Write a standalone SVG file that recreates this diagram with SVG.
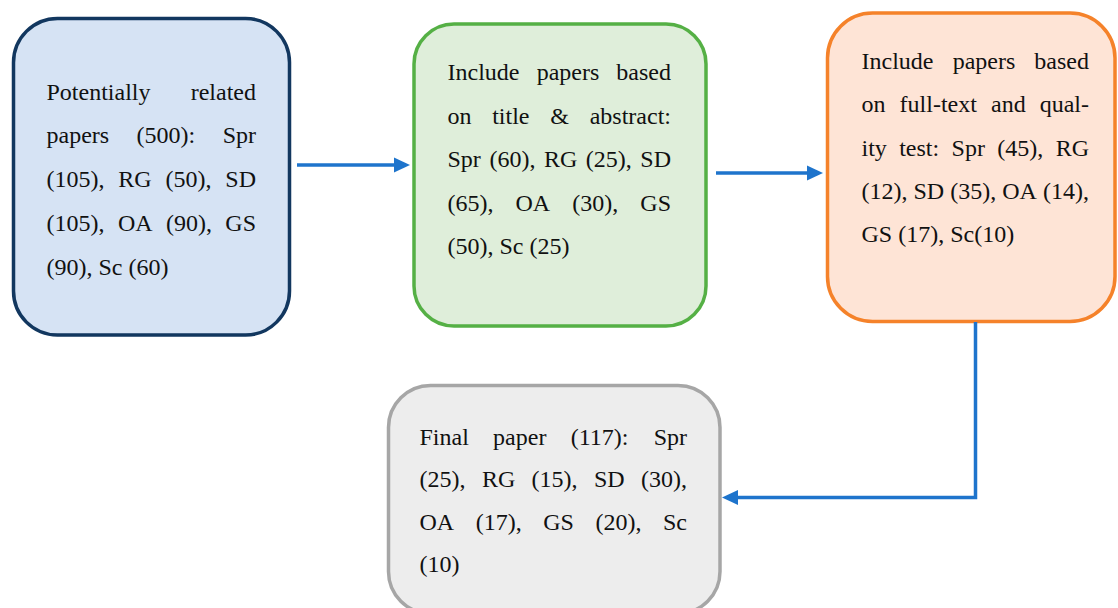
<svg xmlns="http://www.w3.org/2000/svg" width="1118" height="608" viewBox="0 0 1118 608">
<style>
.t{font-family:"Liberation Serif","Times New Roman",serif;font-size:24px;fill:#111111}
.e{text-anchor:end}
.box{stroke-width:3.5}
.conn{fill:none;stroke:#1E74CC;stroke-width:3.5}
</style>
<defs>
<marker id="ah" viewBox="0 0 16 16" markerWidth="16" markerHeight="16" refX="6" refY="8" markerUnits="userSpaceOnUse" orient="auto">
<path d="M0,0.5 L16,8 L0,15.5 Z" fill="#1E74CC"/>
</marker>
</defs>
<rect width="1118" height="608" fill="#ffffff"/>
<g id="node1">
<rect class="box" x="13.5" y="18.5" width="276" height="316.5" rx="44" fill="#D6E3F4" stroke="#12375F"/>
<text class="t" y="99.5"><tspan x="46.5">Potentially</tspan><tspan class="e" x="256">related</tspan></text>
<text class="t" y="143"><tspan x="46.5">papers</tspan><tspan x="136.6">(500):</tspan><tspan class="e" x="256">Spr</tspan></text>
<text class="t" y="187"><tspan x="46.5">(105),</tspan><tspan x="118.3">RG</tspan><tspan x="165.4">(50),</tspan><tspan class="e" x="256">SD</tspan></text>
<text class="t" y="231"><tspan x="46.5">(105),</tspan><tspan x="117.9">OA</tspan><tspan x="166">(90),</tspan><tspan class="e" x="256">GS</tspan></text>
<text class="t" x="46.5" y="275">(90), Sc (60)</text>
</g>
<g id="node2">
<rect class="box" x="414" y="24" width="292" height="302" rx="40" fill="#DFEEDA" stroke="#55B045"/>
<text class="t" y="80"><tspan x="447.5">Include</tspan><tspan x="536.7">papers</tspan><tspan class="e" x="671">based</tspan></text>
<text class="t" y="123.5"><tspan x="447.5">on</tspan><tspan x="492.2">title</tspan><tspan x="550.2">&amp;</tspan><tspan class="e" x="671">abstract:</tspan></text>
<text class="t" y="167"><tspan x="447.5">Spr</tspan><tspan x="489.4">(60),</tspan><tspan x="543.9">RG</tspan><tspan x="585.8">(25),</tspan><tspan class="e" x="671">SD</tspan></text>
<text class="t" y="210.5"><tspan x="447.5">(65),</tspan><tspan x="515.5">OA</tspan><tspan x="572.2">(30),</tspan><tspan class="e" x="671">GS</tspan></text>
<text class="t" x="447.5" y="254">(50), Sc (25)</text>
</g>
<g id="node3">
<rect class="box" x="827.5" y="13" width="287.5" height="308.5" rx="45" fill="#FEE4D6" stroke="#F5822A"/>
<text class="t" y="68.5"><tspan x="861.5">Include</tspan><tspan x="952.7">papers</tspan><tspan class="e" x="1089">based</tspan></text>
<text class="t" y="112"><tspan x="861.5">on</tspan><tspan x="899.6">full-text</tspan><tspan x="991">and</tspan><tspan class="e" x="1089">qual-</tspan></text>
<text class="t" y="155.5"><tspan x="861.5">ity</tspan><tspan x="899.2">test:</tspan><tspan x="951.6">Spr</tspan><tspan x="997.3">(45),</tspan><tspan class="e" x="1089">RG</tspan></text>
<text class="t" y="198.5"><tspan x="861.5">(12),</tspan><tspan x="913.5">SD</tspan><tspan x="950.2">(35),</tspan><tspan x="1002.2">OA</tspan><tspan class="e" x="1089">(14),</tspan></text>
<text class="t" x="861.5" y="242">GS (17), Sc(10)</text>
</g>
<g id="node4">
<rect class="box" x="388.5" y="385.5" width="331.5" height="228" rx="42" fill="#EDEDED" stroke="#A6A6A6"/>
<text class="t" y="445"><tspan x="419.5">Final</tspan><tspan x="493.1">paper</tspan><tspan x="570.7">(117):</tspan><tspan class="e" x="687">Spr</tspan></text>
<text class="t" y="487"><tspan x="419.5">(25),</tspan><tspan x="481.9">RG</tspan><tspan x="531.6">(15),</tspan><tspan x="594">SD</tspan><tspan class="e" x="687">(30),</tspan></text>
<text class="t" y="530"><tspan x="419.5">OA</tspan><tspan x="475.7">(17),</tspan><tspan x="543.2">GS</tspan><tspan x="595.4">(20),</tspan><tspan class="e" x="687">Sc</tspan></text>
<text class="t" x="419.5" y="572">(10)</text>
</g>
<g id="connectors">
<line class="conn" x1="297" y1="165" x2="400" y2="165" marker-end="url(#ah)"/>
<line class="conn" x1="716" y1="173" x2="813" y2="173" marker-end="url(#ah)"/>
<path class="conn" d="M975.5,322 V497.5 H732" marker-end="url(#ah)"/>
</g>
</svg>
